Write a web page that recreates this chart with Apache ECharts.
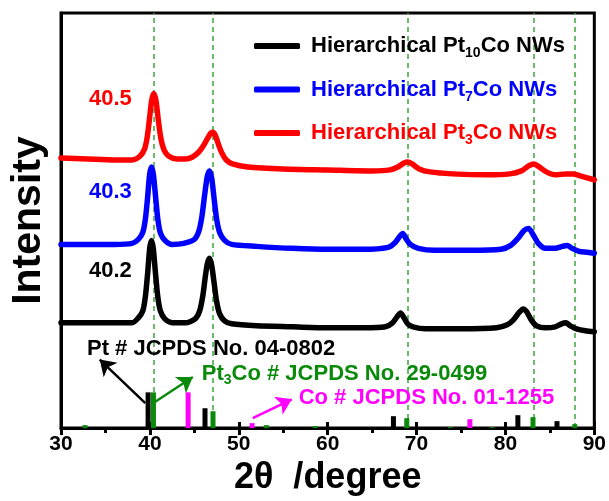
<!DOCTYPE html>
<html>
<head>
<meta charset="utf-8">
<script src="https://cdn.jsdelivr.net/npm/echarts@6/dist/echarts.min.js"></script>
<style>html,body{margin:0;padding:0;background:#fff;}#c{width:609px;height:501px;}</style>
</head>
<body>
<div id="c"></div>
<script>
// ---- data (2θ in degrees, intensity in arbitrary units) ----
const pt10Co = [[30,106],[33,106],[36,106],[38.0,106],[38.7,111],[39.2,118],[39.5,133],[39.75,156],[39.98,181],[40.18,189],[40.38,181],[40.63,156],[40.88,133],[41.18,118],[41.68,110],[42.5,106],[44.0,106],[45.1,110],[45.6,118],[45.95,133],[46.2,150],[46.45,165],[46.7,171],[46.95,164],[47.2,148],[47.5,128],[47.85,115],[48.4,108],[49.2,105],[52,103],[56,102],[60,101],[64,101],[66.5,102],[67.3,106],[67.8,112],[68.2,116],[68.6,111],[69.0,105],[69.6,102],[71,100],[75,100],[79,101],[80.2,104],[80.9,109],[81.5,116],[82.0,120],[82.4,117],[82.9,109],[83.5,103],[84.5,101],[85.6,102],[86.3,105],[86.8,106],[87.3,103],[88.0,100],[89,98],[90,97]];
const pt7Co = [[30,185],[33,185],[36,185],[38.0,186],[38.7,190],[39.2,197],[39.5,211],[39.75,233],[39.98,256],[40.2,263],[40.4,255],[40.65,232],[40.9,210],[41.2,196],[41.7,189],[42.5,185],[43.8,186],[45.0,190],[45.5,198],[45.85,213],[46.15,234],[46.45,253],[46.7,259],[46.95,252],[47.2,233],[47.5,211],[47.85,197],[48.4,189],[49.2,185],[52,183],[56,181],[60,180],[64,180],[66.8,182],[67.6,187],[68.1,193],[68.45,196],[68.8,191],[69.3,185],[70.2,181],[72,179],[76,179],[79.5,180],[80.6,184],[81.4,191],[82.1,199],[82.6,201],[83.1,195],[83.7,186],[84.5,181],[85.6,181],[86.4,183],[86.95,184],[87.5,181],[88.3,178],[89.2,177],[90,176]];
const pt3Co = [[30,272],[33,271],[36,270],[38.0,270],[38.9,274],[39.4,281],[39.7,293],[39.95,311],[40.2,330],[40.45,337],[40.7,329],[40.95,310],[41.25,291],[41.6,280],[42.1,274],[43.0,271],[44.0,271],[44.8,273],[45.5,278],[46.0,284],[46.5,292],[46.85,297],[47.1,298],[47.35,295],[47.7,286],[48.1,277],[48.6,270],[49.3,266],[51,263],[55,261],[60,260],[65,259],[67.0,260],[67.9,263],[68.6,267],[69.0,268],[69.5,266],[70.3,261],[71.5,258],[74,256],[78,255],[80.5,256],[81.8,259],[82.6,264],[83.2,266],[83.8,263],[84.6,258],[85.6,255],[86.8,256],[87.6,256],[88.4,254],[89.2,252],[90,250]];
// reference patterns [2θ, relative height]
const refPt = [[39.8,36],[46.2,20],[67.4,12],[81.4,13],[85.8,7]];
const refPt3Co = [[32.7,3],[40.4,36],[47.1,17],[53.1,3],[58.6,2],[68.9,10],[73.8,1],[78.5,1],[83.1,11],[87.8,4]];
const refCo = [[44.3,36],[51.5,5],[76.0,9]];
const pt3CoLines = [40.4, 47.1, 69.0, 83.2, 87.8];
const xTicks = [30, 40, 50, 60, 70, 80, 90];
const seriesNames = ['Hierarchical Pt{s|10}Co NWs', 'Hierarchical Pt{s|7}Co NWs', 'Hierarchical Pt{s|3}Co NWs'];
const peakLabels = ['40.2', '40.3', '40.5'];

const FONT = 'Liberation Sans, Arial, sans-serif';
const chart = echarts.init(document.getElementById('c'), null, {renderer: 'canvas'});
const colors = ['#000000', '#0000ff', '#ff0000'];
const GREEN = '#0a8a0a';
const MAG = '#ff00ff';
const subRich = c => ({s: {fontSize: 14, fontWeight: 'bold', fontFamily: FONT, color: c, padding: [15, 0, 0, 0]}});

const lineSeries = [pt10Co, pt7Co, pt3Co].map((d, i) => ({
  name: seriesNames[i], type: 'line', data: d, showSymbol: false, symbol: 'none', smooth: 0.25,
  lineStyle: {width: 5.5, color: colors[i], cap: 'round', join: 'round'}, itemStyle: {color: colors[i]},
  z: 3, silent: true
}));

const arrowStyle = c => ({color: c, width: 2.5, type: 'solid'});
const barBase = {type: 'bar', barWidth: 5, barGap: '-100%', silent: true, z: 2};

const option = {
  animation: false,
  backgroundColor: '#fff',
  grid: {left: 61, right: 14, top: 13, bottom: 70, show: true, borderColor: '#000', borderWidth: 3, backgroundColor: 'transparent'},
  xAxis: [{
    type: 'value', min: 30, max: 90, interval: 10,
    name: '2θ  /degree', nameLocation: 'middle', nameGap: 31,
    nameTextStyle: {fontSize: 36, fontWeight: 'bold', fontFamily: FONT, color: '#000'},
    axisLine: {show: true, lineStyle: {color: '#000', width: 3}},
    axisTick: {show: true, length: 7, lineStyle: {width: 3, color: '#000'}},
    minorTick: {show: true, splitNumber: 2, length: 5, lineStyle: {width: 3, color: '#000'}},
    axisLabel: {margin: 6, fontSize: 21, fontWeight: 'bold', fontFamily: FONT, color: '#000',
      formatter: v => xTicks.includes(v) ? String(v) : ''},
    splitLine: {show: false}
  }, {
    type: 'value', min: 30, max: 90, interval: 10, position: 'bottom', gridIndex: 0,
    axisLine: {show: false}, axisLabel: {show: false}, splitLine: {show: false},
    axisTick: {show: true, inside: true, length: 6, lineStyle: {width: 3, color: '#000'}}
  }],
  yAxis: {
    type: 'value', min: 0, max: 418,
    name: 'Intensity', nameLocation: 'middle', nameGap: 12, nameRotate: 90,
    nameTextStyle: {fontSize: 41, fontWeight: 'bold', fontFamily: FONT, color: '#000'},
    axisLine: {show: true, lineStyle: {color: '#000', width: 3}},
    axisTick: {show: false}, axisLabel: {show: false}, splitLine: {show: false}
  },
  legend: {
    orient: 'vertical', left: 249, top: 30, itemWidth: 46, itemHeight: 6, itemGap: 18,
    icon: 'roundRect',
    data: seriesNames.map((n, i) => ({name: n, itemStyle: {color: colors[i]},
      textStyle: {color: colors[i], fontSize: 22, fontWeight: 'bold', fontFamily: FONT, padding: [0, 0, 0, 6], rich: subRich(colors[i])}})),
    formatter: n => n,
    textStyle: {fontSize: 22, fontWeight: 'bold', fontFamily: FONT}
  },
  series: [
    ...lineSeries,
    Object.assign({}, barBase, {name: 'Pt ref', data: refPt, itemStyle: {color: '#000'},
      markLine: {silent: true, symbol: ['none', 'arrow'], symbolSize: 15, label: {show: false},
        data: [[{coord: [39.48, 25.2]}, {coord: [34.36, 69]}]], lineStyle: arrowStyle('#000')}}),
    Object.assign({}, barBase, {name: 'Pt3Co ref', data: refPt3Co, itemStyle: {color: GREEN},
      markLine: {silent: true, symbol: ['none', 'none'], symbolSize: 15, label: {show: false}, z: 1,
        data: [
          ...pt3CoLines.map(v => ({xAxis: v, lineStyle: {color: '#3aa63a', width: 1.5, type: [5, 4]}})),
          [{coord: [40.56, 26.2]}, {coord: [44.83, 51.5], symbol: 'arrow', symbolSize: 15}]
        ], lineStyle: arrowStyle(GREEN)}}),
    Object.assign({}, barBase, {name: 'Co ref', data: refCo, itemStyle: {color: MAG},
      markLine: {silent: true, symbol: ['none', 'arrow'], symbolSize: 15, label: {show: false},
        data: [[{coord: [51.57, 10]}, {coord: [55.96, 29]}]], lineStyle: arrowStyle(MAG)}})
  ]
};
chart.setOption(option);

// text annotations placed in data coordinates
const px = (x, y) => chart.convertToPixel({gridIndex: 0}, [x, y]);
const txt = (x, y, text, color, size, align, rich) => {
  const p = px(x, y);
  return {type: 'text', x: p[0], y: p[1], z: 10, silent: true,
    style: {text: text, fill: color, fontSize: size, fontWeight: 'bold', fontFamily: FONT,
      align: align || 'left', verticalAlign: 'middle', rich: rich}};
};
const annRich = c => ({s: {fontSize: 14, fontWeight: 'bold', fontFamily: FONT, fill: c, padding: [13, 0, 0, 0]}});
chart.setOption({graphic: [
  txt(35.56, 158, peakLabels[0], '#000', 22, 'center'),
  txt(35.56, 238, peakLabels[1], '#0000ff', 22, 'center'),
  txt(35.56, 331, peakLabels[2], '#ff0000', 22, 'center'),
  txt(32.92, 80, 'Pt # JCPDS No. 04-0802', '#000', 22, 'left'),
  txt(45.84, 55, 'Pt{s|3}Co # JCPDS No. 29-0499', GREEN, 22, 'left', annRich(GREEN)),
  txt(56.74, 30, 'Co # JCPDS No. 01-1255', MAG, 22, 'left')
]});
</script>
</body>
</html>
